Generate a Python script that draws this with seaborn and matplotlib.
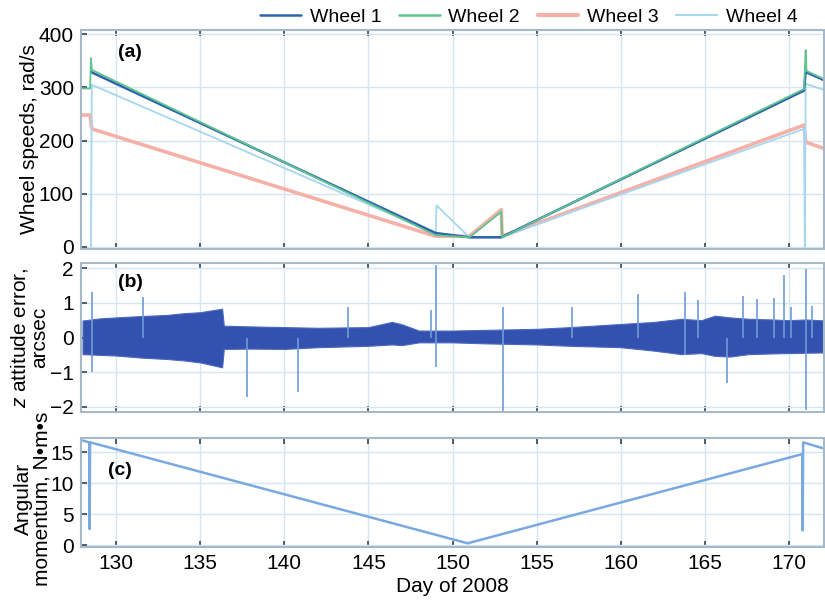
import seaborn as sns
import matplotlib.pyplot as plt
from matplotlib.lines import Line2D

# (a) wheel speeds, rad/s
w1_days = [128.5, 149.0, 151.0, 152.9, 170.9, 171.0, 172.2]
w1_vals = [329, 26, 18, 18, 294, 329, 312]
w2_days = [128.0, 128.45, 128.5, 128.55, 149.0, 151.0, 152.9, 152.95, 170.9, 171.0, 171.05, 172.2]
w2_vals = [298, 298, 355, 333, 22, 18, 66, 18, 297, 370, 331, 314]
w3_days = [128.0, 128.45, 128.55, 149.0, 151.0, 152.9, 152.95, 170.9, 171.0, 172.2]
w3_vals = [248, 248, 222, 20, 20, 70, 20, 229, 197, 184]
w4_days = [128.5, 128.55, 149.0, 149.05, 151.0, 152.9, 170.9, 170.95, 171.0, 172.2]
w4_vals = [0, 305, 25, 78, 18, 18, 222, 0, 307, 294]

# (b) z attitude error envelope, arcsec
env_days = [128.0, 129, 130, 131.5, 133, 134, 135, 136.3, 136.4, 138, 140, 142, 145, 146.4,
            147, 148, 150, 152, 155, 157, 160, 162, 163.6, 164.8, 165.6, 166.5, 167.6, 169,
            170, 171, 172.2]
env_upper = [0.49, 0.55, 0.58, 0.62, 0.65, 0.70, 0.73, 0.83, 0.34, 0.32, 0.30, 0.28, 0.30, 0.45,
             0.38, 0.20, 0.20, 0.22, 0.25, 0.30, 0.39, 0.45, 0.54, 0.50, 0.63, 0.58, 0.54, 0.52,
             0.50, 0.52, 0.49]
env_lower = [-0.48, -0.50, -0.52, -0.58, -0.62, -0.66, -0.72, -0.86, -0.33, -0.32, -0.33, -0.28,
             -0.24, -0.20, -0.22, -0.14, -0.14, -0.17, -0.20, -0.24, -0.28, -0.38, -0.48, -0.45,
             -0.53, -0.55, -0.48, -0.46, -0.45, -0.44, -0.43]
spike_days = [128.55, 131.6, 137.8, 140.8, 143.8, 148.7, 149.0, 153.0, 157.1, 161.0,
              163.8, 164.6, 166.3, 167.3, 168.1, 169.1, 169.7, 170.1, 171.0, 171.4]
spike_top = [1.3, 1.17, 0, 0, 0.88, 0.78, 2.08, 0.88, 0.88, 1.26,
             1.31, 1.07, 0, 1.21, 1.1, 1.15, 1.79, 0.88, 1.98, 0.9]
spike_bottom = [-1.0, 0, -1.72, -1.58, 0, 0, -0.86, -2.12, 0, 0,
                -0.5, 0, -1.3, 0, 0, 0, 0, 0, -2.1, 0]

# (c) angular momentum, N m s
h_days = [128.0, 128.4, 128.42, 128.45, 150.9, 170.8, 170.82, 170.85, 172.2]
h_vals = [16.9, 16.6, 2.6, 16.6, 0.3, 14.7, 2.4, 16.6, 15.5]

day_ticks = [130, 135, 140, 145, 150, 155, 160, 165, 170]

sns.set_theme(style="whitegrid")
plt.rcParams['font.family'] = ['Liberation Sans', 'DejaVu Sans']
plt.rcParams['mathtext.fontset'] = 'custom'
plt.rcParams['mathtext.it'] = 'Liberation Sans:italic'
plt.rcParams['mathtext.rm'] = 'Liberation Sans'
plt.rcParams['text.color'] = 'black'
plt.rcParams['axes.labelcolor'] = 'black'

fig = plt.figure(figsize=(8.25, 6), dpi=100)
ax_a = fig.add_axes([0.098, 0.585, 0.901, 0.365])
ax_b = fig.add_axes([0.098, 0.3133, 0.901, 0.2484])
ax_c = fig.add_axes([0.098, 0.0883, 0.901, 0.1817])

c1, c2, c3, c4 = '#2d62b0', '#5cc48e', '#f5b0a8', '#a6d6f0'

sns.lineplot(x=w3_days, y=w3_vals, ax=ax_a, sort=False, estimator=None, color=c3, lw=2.6)
sns.lineplot(x=w4_days, y=w4_vals, ax=ax_a, sort=False, estimator=None, color=c4, lw=1.3)
sns.lineplot(x=w1_days, y=w1_vals, ax=ax_a, sort=False, estimator=None, color=c1, lw=1.8)
sns.lineplot(x=w2_days, y=w2_vals, ax=ax_a, sort=False, estimator=None, color=c2, lw=1.3)
ax_a.set_ylim(-4, 408)
ax_a.set_yticks([0, 100, 200, 300, 400])
ax_a.set_ylabel('Wheel speeds, rad/s', fontsize=15)

ax_b.fill_between(env_days, env_lower, env_upper, color='#3352b0', lw=0.8, edgecolor='#4a68c0')
ax_b.vlines(spike_days, spike_bottom, spike_top, color='#6e9bd8', lw=1.2)
ax_b.set_ylim(-2.15, 2.15)
ax_b.set_yticks([-2, -1, 0, 1, 2])
ax_b.set_yticklabels(['\u22122', '\u22121', '0', '1', '2'])
ax_b.set_ylabel('$z$ attitude error,\narcsec', fontsize=15, linespacing=1.0)

sns.lineplot(x=h_days, y=h_vals, ax=ax_c, sort=False, estimator=None, color='#7aa8e0', lw=1.8)
ax_c.set_ylim(-0.3, 17.3)
ax_c.set_yticks([0, 5, 10, 15])
ax_c.set_ylabel('Angular\nmomentum, N\u2022m\u2022s', fontsize=15, linespacing=1.0)
ax_c.set_xlabel('Day of 2008', fontsize=15, labelpad=3)

for ax, lab, lx, ly in [(ax_a, '(a)', 0.05, 0.895), (ax_b, '(b)', 0.05, 0.866), (ax_c, '(c)', 0.036, 0.706)]:
    ax.set_xlim(127.9, 172.1)
    ax.set_xticks(day_ticks)
    ax.grid(True, color='#d3e7f3', lw=1)
    ax.tick_params(direction='in', length=4, color='#3a4a5a', labelsize=15, pad=5,
                   labelcolor='black', top=True, bottom=True, left=True, right=False)
    for s in ax.spines.values():
        s.set_color('#a7b9c7')
        s.set_linewidth(1.5)
    ax.text(lx, ly, lab, transform=ax.transAxes, fontsize=14, fontweight='bold',
            va='center', ha='left')
ax_a.yaxis.set_label_coords(-0.056, 0.5)
ax_b.yaxis.set_label_coords(-0.043, 0.5)
ax_c.yaxis.set_label_coords(-0.039, 0.44)
ax_a.tick_params(labelbottom=False)
ax_b.tick_params(labelbottom=False)

handles = [Line2D([], [], color=c1, lw=1.8), Line2D([], [], color=c2, lw=1.8),
           Line2D([], [], color=c3, lw=3), Line2D([], [], color=c4, lw=1.5)]
fig.legend(handles, ['Wheel 1', 'Wheel 2', 'Wheel 3', 'Wheel 4'], loc='upper right',
           bbox_to_anchor=(0.988, 1.016), ncol=4, frameon=False, fontsize=14,
           handlelength=2.1, columnspacing=0.9, handletextpad=0.45)

fig.savefig('out.png', dpi=100)
